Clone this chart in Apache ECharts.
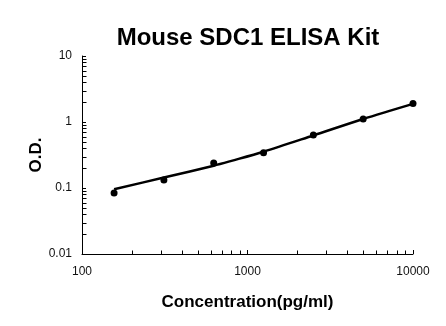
<!DOCTYPE html>
<html>
<head>
<meta charset="utf-8">
<style>html,body{margin:0;padding:0;background:#fff}#c{width:446px;height:326px}</style>
<script src="https://cdn.jsdelivr.net/npm/echarts@6/dist/echarts.min.js"></script>
</head>
<body>
<div id="c"></div>
<script>
// Standard points
var concentrations = [156.25, 312.5, 625, 1250, 2500, 5000, 10000];
var odValues = [0.084, 0.132, 0.239, 0.343, 0.635, 1.11, 1.90];
// Fitted curve
var curveX = [156.25, 312.5, 625, 800, 1250, 2500, 5000, 10000];
var curveY = [0.096, 0.144, 0.218, 0.258, 0.355, 0.625, 1.11, 1.88];
// Axis decoration
var xTickLabels = [100, 1000, 10000];
var yTickLabels = [0.01, 0.1, 1, 10];
var xMinorTicks = [200, 300, 400, 500, 600, 700, 800, 900, 2000, 3000, 4000, 5000, 6000, 7000, 8000, 9000];
var yMinorTicks = [0.02, 0.03, 0.04, 0.05, 0.06, 0.07, 0.08, 0.09, 0.2, 0.3, 0.4, 0.5, 0.6, 0.7, 0.8, 0.9, 2, 3, 4, 5, 6, 7, 8, 9];

var FONT = '"Liberation Sans", Arial, sans-serif';
var chart = echarts.init(document.getElementById('c'), null, {renderer: 'canvas'});

function fmt(v) { return String(parseFloat(Number(v).toPrecision(6))); }

var minorData = [];
xMinorTicks.forEach(function (v) { minorData.push([v, yTickLabels[0], 0]); });
yMinorTicks.forEach(function (v) { minorData.push([xTickLabels[0], v, 1]); });

chart.setOption({
  animation: false,
  backgroundColor: '#fff',
  title: {
    text: 'Mouse SDC1 ELISA Kit',
    left: 243, top: 21, textAlign: 'center',
    textStyle: {fontFamily: FONT, fontSize: 24, fontWeight: 'bold', color: '#000'}
  },
  grid: {left: 82, right: 33, top: 56, bottom: 72},
  xAxis: {
    type: 'log', logBase: 10, min: xTickLabels[0], max: xTickLabels[xTickLabels.length - 1],
    name: 'Concentration(pg/ml)', nameLocation: 'middle', nameGap: 40, nameMoveOverlap: false,
    nameTextStyle: {fontFamily: FONT, fontSize: 17, fontWeight: 'bold', color: '#000'},
    axisLine: {lineStyle: {color: '#000', width: 1}},
    axisTick: {show: true, inside: true, length: 4, lineStyle: {color: '#000'}},
    axisLabel: {fontFamily: FONT, fontSize: 12, color: '#111', margin: 12, formatter: fmt},
    splitLine: {show: false}
  },
  yAxis: {
    type: 'log', logBase: 10, min: yTickLabels[0], max: yTickLabels[yTickLabels.length - 1],
    name: 'O.D.', nameLocation: 'middle', nameGap: 37, nameRotate: 90, nameMoveOverlap: false,
    nameTextStyle: {fontFamily: FONT, fontSize: 17, fontWeight: 'bold', color: '#000'},
    axisLine: {show: true, lineStyle: {color: '#000', width: 1}},
    axisTick: {show: true, inside: true, length: 4, lineStyle: {color: '#000'}},
    axisLabel: {fontFamily: FONT, fontSize: 12, color: '#111', margin: 10, formatter: fmt},
    splitLine: {show: false}
  },
  series: [
    {
      type: 'custom',
      data: minorData,
      silent: true,
      z: 1,
      renderItem: function (params, api) {
        var p = api.coord([api.value(0), api.value(1)]);
        var isY = api.value(2) === 1;
        var x0 = Math.round(p[0]) + 0.5, y0 = Math.round(p[1]) + 0.5;
        var shape = isY ? {x1: x0, y1: y0, x2: x0 + 4, y2: y0} : {x1: x0, y1: y0, x2: x0, y2: y0 - 4};
        return {type: 'line', shape: shape, style: {stroke: '#000', lineWidth: 1}};
      }
    },
    {
      type: 'line',
      data: curveX.map(function (x, i) { return [x, curveY[i]]; }),
      smooth: 0.3,
      showSymbol: false,
      lineStyle: {color: '#000', width: 2.5},
      z: 2
    },
    {
      type: 'scatter',
      data: concentrations.map(function (x, i) { return [x, odValues[i]]; }),
      symbol: 'circle', symbolSize: 7,
      itemStyle: {color: '#000', opacity: 1},
      z: 3
    }
  ]
});
</script>
</body>
</html>
